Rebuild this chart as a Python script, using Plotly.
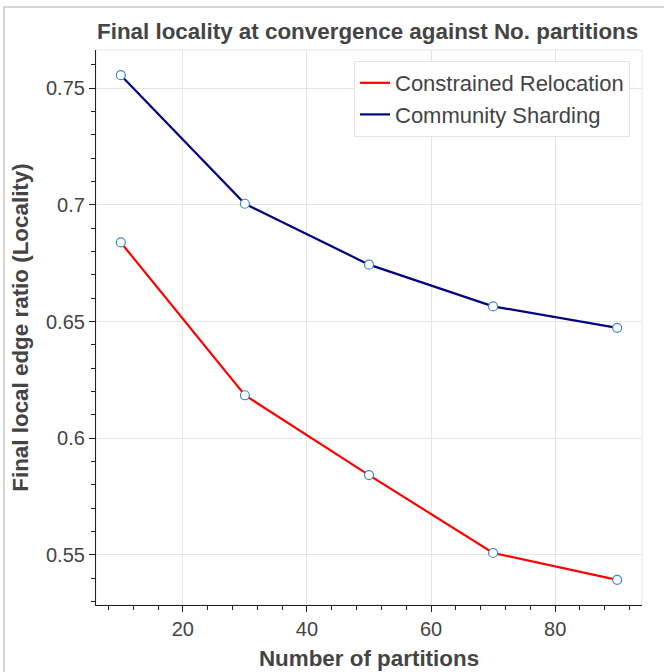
import plotly.graph_objects as go

partitions = [10, 30, 50, 70, 90]
constrained_relocation = [0.6839, 0.6184, 0.5842, 0.5508, 0.5393]
community_sharding = [0.7556, 0.7005, 0.6744, 0.6565, 0.6473]

title_text = "Final locality at convergence against No. partitions"
x_title = "Number of partitions"
y_title = "Final local edge ratio (Locality)"

FONT = "Liberation Sans, Arial, Helvetica, sans-serif"
TXT = "#444444"

W, H = 664, 672
ML, MR, MT, MB = 96, 22, 50, 67
PW, PH = W - ML - MR, H - MT - MB

fig = go.Figure()
fig.add_trace(go.Scatter(x=partitions, y=constrained_relocation, mode="lines",
                         line=dict(color="#ff0000", width=2.2), name="Constrained Relocation"))
fig.add_trace(go.Scatter(x=partitions, y=community_sharding, mode="lines",
                         line=dict(color="#000080", width=2.2), name="Community Sharding"))
for ys in (constrained_relocation, community_sharding):
    fig.add_trace(go.Scatter(x=partitions, y=ys, mode="markers", showlegend=False,
                             marker=dict(symbol="circle", size=9, color="white",
                                         line=dict(color="#3a87c8", width=1.2))))

def px_x(p):
    return (p - ML) / PW

def px_y(p):
    return (H - MB - p) / PH

shapes = [
    # outer figure frame (left/top visible)
    dict(type="rect", xref="paper", yref="paper", x0=px_x(4), x1=px_x(W + 20),
         y0=px_y(H + 20), y1=px_y(7), line=dict(color="#c8c8c8", width=1.5), layer="below"),
    # plot outline (light)
    dict(type="rect", xref="paper", yref="paper", x0=0, x1=1, y0=0, y1=1,
         line=dict(color="#e5e5e5", width=1), layer="below"),
]

axis_common = dict(
    showgrid=True, gridcolor="#e5e5e5", gridwidth=1, zeroline=False,
    showline=True, linecolor="#222222", linewidth=1.2,
    ticks="outside", ticklen=6, tickcolor="#222222", tickwidth=1.2,
    tickfont=dict(family=FONT, size=20, color=TXT),
)

fig.update_layout(
    width=W, height=H,
    margin=dict(l=ML, r=MR, t=MT, b=MB, autoexpand=False),
    paper_bgcolor="white", plot_bgcolor="white",
    font=dict(family=FONT, color=TXT),
    title=dict(text="<b>" + title_text + "</b>", x=px_x(97), xref="paper", xanchor="left",
               y=1 - 31 / H, yref="container", yanchor="middle",
               font=dict(family=FONT, size=22.4, color=TXT)),
    xaxis=dict(range=[6, 94], dtick=20, tick0=0,
               minor=dict(ticks="outside", ticklen=4, dtick=4, tick0=0, tickcolor="#222222", showgrid=False),
               title=dict(text="<b>" + x_title + "</b>", font=dict(family=FONT, size=22.4, color=TXT), standoff=11),
               **axis_common),
    yaxis=dict(range=[0.5285, 0.7664], dtick=0.05, tick0=0,
               minor=dict(ticks="outside", ticklen=4, dtick=0.01, tick0=0, tickcolor="#222222", showgrid=False),
               title=dict(text="<b>" + y_title + "</b>", font=dict(family=FONT, size=22.4, color=TXT), standoff=11),
               **axis_common),
    legend=dict(x=px_x(630), y=px_y(61), xanchor="right", yanchor="top",
                bgcolor="white", bordercolor="#e5e5e5", borderwidth=1,
                font=dict(family=FONT, size=22, color=TXT), itemwidth=30, tracegroupgap=0),
    shapes=shapes,
)

fig.write_html("out.html")
